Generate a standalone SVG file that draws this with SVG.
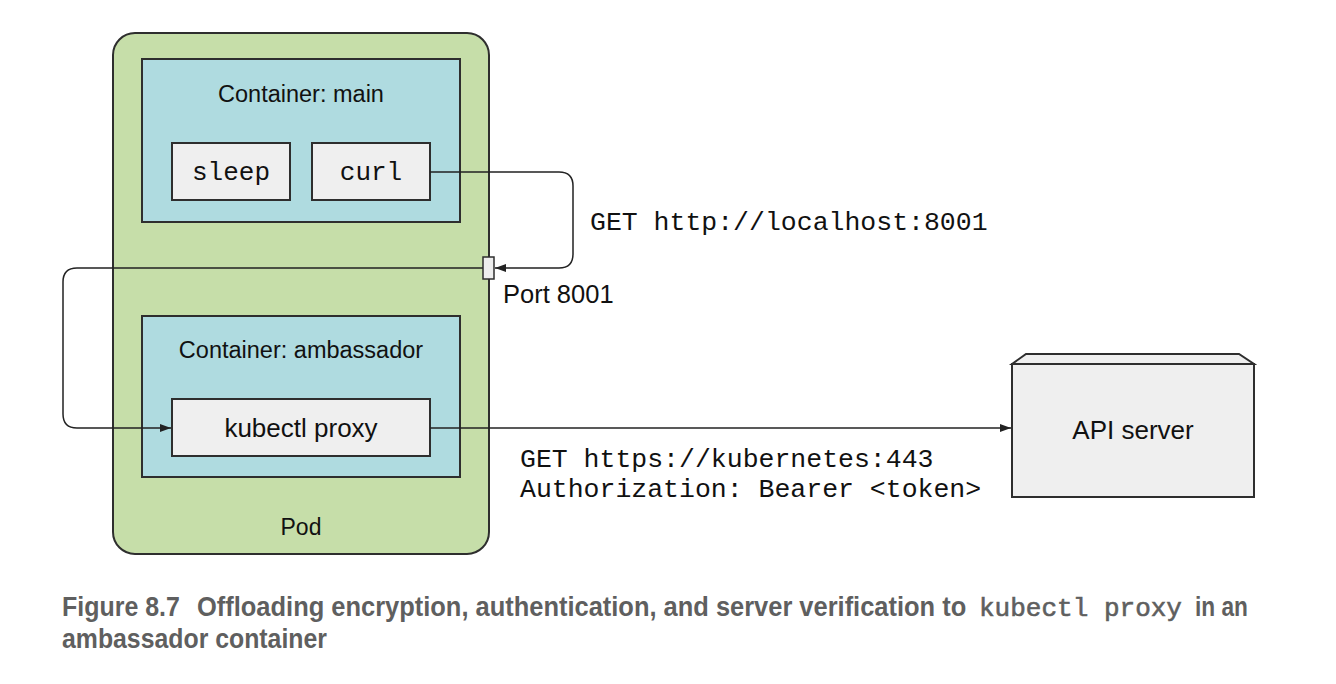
<svg xmlns="http://www.w3.org/2000/svg" width="1336" height="684" viewBox="0 0 1336 684">
<defs>
<marker id="arr" markerUnits="userSpaceOnUse" markerWidth="11" markerHeight="8" refX="11" refY="4" orient="auto">
<path d="M0,0 L11,4 L0,8 z" fill="#222"/>
</marker>
<style>
.box{stroke:#2e2e2e;stroke-width:2}
.pod{fill:#c6dea9}
.cont{fill:#afdbe0}
.proc{fill:#efefef}
.sans{font-family:"Liberation Sans",Arial,sans-serif;fill:#111}
.mono{font-family:"Liberation Mono","Courier New",monospace;fill:#111}
.conn{fill:none;stroke:#222;stroke-width:1.5}
.cap{font-family:"Liberation Sans",Arial,sans-serif;font-weight:bold;fill:#5f5f5f;font-size:27px}
.capm{font-family:"Liberation Mono","Courier New",monospace;fill:#5f5f5f;font-size:26px;stroke:#5f5f5f;stroke-width:0.6}
</style>
</defs>
<rect width="1336" height="684" fill="#ffffff"/>
<g id="pod">
<rect class="box pod" x="113" y="33" width="376" height="521" rx="22"/>
<text class="sans" x="301" y="535" font-size="23" text-anchor="middle">Pod</text>
</g>
<g id="container-main">
<rect class="box cont" x="142" y="59" width="318" height="163"/>
<text class="sans" x="301" y="102" font-size="23.5" text-anchor="middle">Container: main</text>
</g>
<g id="sleep">
<rect class="box proc" x="172" y="143" width="118" height="57"/>
<text class="mono" x="231" y="180" font-size="26" text-anchor="middle">sleep</text>
</g>
<g id="curl">
<rect class="box proc" x="312" y="143" width="118" height="57"/>
<text class="mono" x="371" y="180" font-size="26" text-anchor="middle">curl</text>
</g>
<g id="container-ambassador">
<rect class="box cont" x="142" y="316" width="318" height="161"/>
<text class="sans" x="301" y="358" font-size="23.5" text-anchor="middle">Container: ambassador</text>
</g>
<g id="kubectl-proxy">
<rect class="box proc" x="172" y="399" width="258" height="57"/>
<text class="sans" x="301" y="437" font-size="26" text-anchor="middle">kubectl proxy</text>
</g>
<g id="api-server">
<path class="box proc" d="M1012,364 L1026,354 L1239,354 L1254,364 z"/>
<rect class="box proc" x="1012" y="364" width="242" height="133"/>
<text class="sans" x="1133" y="439" font-size="26" text-anchor="middle">API server</text>
</g>
<g id="connectors">
<path class="conn" d="M430,172 H559 Q573,172 573,186 V254 Q573,268 559,268 H495" marker-end="url(#arr)"/>
<path class="conn" d="M483,268 H77 Q63,268 63,282 V414 Q63,428 77,428 H171" marker-end="url(#arr)"/>
<path class="conn" d="M430,428 H1011" marker-end="url(#arr)"/>
</g>
<g id="port">
<rect x="483" y="257" width="11" height="22" fill="#eeeeee" stroke="#2e2e2e" stroke-width="1.5"/>
<text class="sans" x="503" y="303" font-size="25.5">Port 8001</text>
</g>
<g id="labels">
<text class="mono" x="590" y="230" font-size="26.5">GET http://localhost:8001</text>
<text class="mono" x="520" y="467" font-size="26.5">GET https://kubernetes:443</text>
<text class="mono" x="520" y="497" font-size="26.5">Authorization: Bearer &lt;token&gt;</text>
</g>
<g id="caption">
<text class="cap" transform="translate(62,616) scale(0.925,1)" x="0" y="0" textLength="127.5" lengthAdjust="spacingAndGlyphs">Figure 8.7</text>
<text class="cap" transform="translate(197,616) scale(0.945,1)" x="0" y="0" textLength="814" lengthAdjust="spacingAndGlyphs">Offloading encryption, authentication, and server verification to</text>
<text class="capm" x="979" y="616" textLength="203" lengthAdjust="spacingAndGlyphs">kubectl proxy</text>
<text class="cap" transform="translate(1195,616) scale(0.84,1)" x="0" y="0" textLength="63" lengthAdjust="spacingAndGlyphs">in an</text>
<text class="cap" transform="translate(62,648) scale(0.92,1)" x="0" y="0" textLength="288" lengthAdjust="spacingAndGlyphs">ambassador container</text>
</g>
</svg>
